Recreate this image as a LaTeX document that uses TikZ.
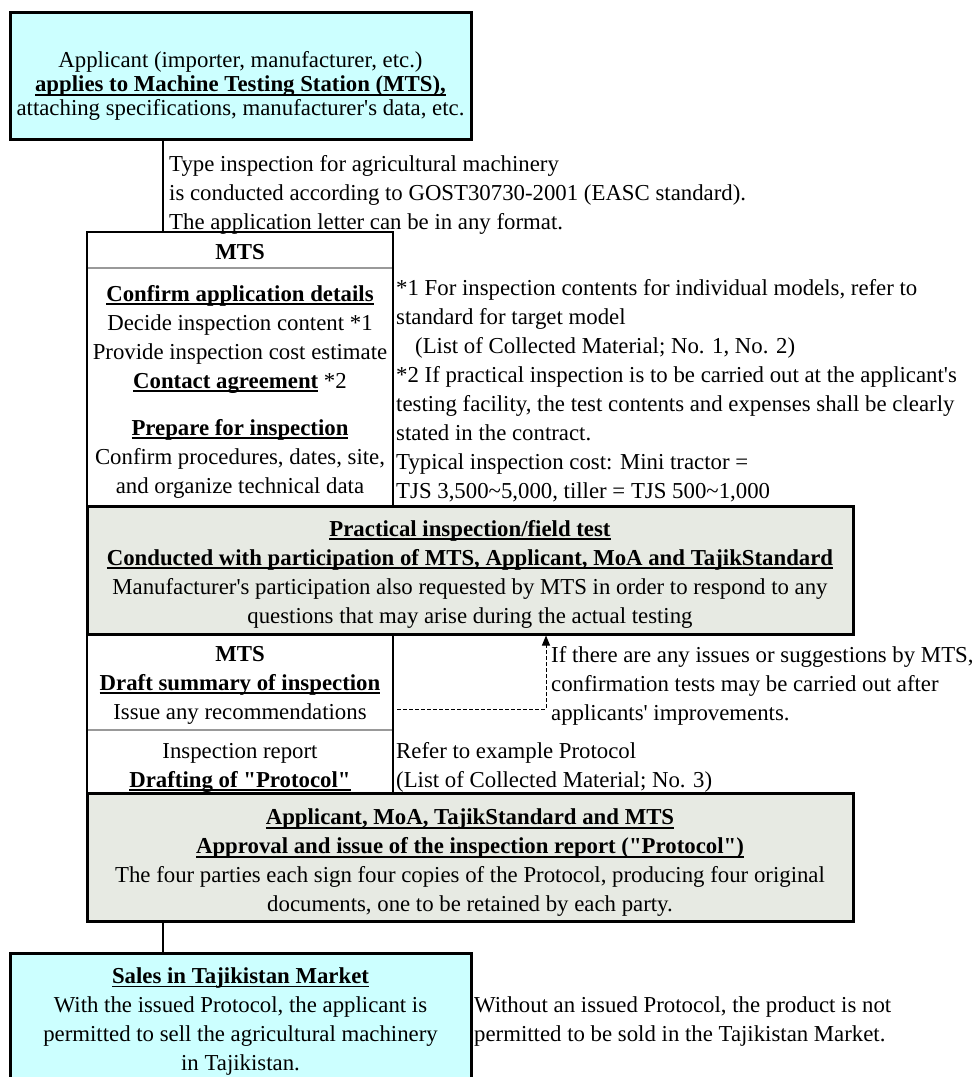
\documentclass[tikz,border=0pt]{standalone}
\usepackage{fontspec}
\setmainfont{Liberation Serif}[Ligatures=TeXOff]
\usepackage{xcolor}
\usetikzlibrary{arrows.meta,positioning,calc}

\definecolor{boxcyan}{HTML}{CCFFFF}
\definecolor{boxgray}{HTML}{E7EAE3}
\newcommand{\boxfont}{\fontsize{22.8}{29}\selectfont}
\newcommand{\tightfont}{\fontsize{22.8}{24}\selectfont\lineskiplimit=-100pt\lineskip=0pt}
\newsavebox{\ulsave}
\newcommand{\bu}[1]{\sbox{\ulsave}{\textbf{#1}}\rlap{\rule[-4pt]{\wd\ulsave}{1.8pt}}\usebox{\ulsave}}

\begin{document}
\begin{tikzpicture}[x=1pt, y=-1pt]
        \tikzset{
            cyanbox/.style={draw, fill=boxcyan, line width=3pt, inner sep=0pt, outer sep=0pt},
            graybox/.style={draw, fill=boxgray, line width=3pt, inner sep=0pt, outer sep=0pt},
            mtsbox/.style={draw, line width=2.6pt, inner sep=0pt, outer sep=0pt},
            txt/.style={align=center, font=\boxfont, inner sep=0pt},
            note/.style={align=left, font=\boxfont, inner sep=0pt, anchor=west},
            link/.style={line width=2.4pt},
            rowline/.style={line width=2.4pt, black!40, shorten <=1.4pt, shorten >=1.4pt},
            retest/.style={line width=1pt, dash pattern=on 4pt off 2pt, -{Triangle[length=10pt,width=8pt]}},
        }
        \useasboundingbox (0,0) rectangle (979,1077);

        % Application to MTS
        \node [cyanbox, minimum width=461pt, minimum height=127pt] (appl) at (240.5,75.5) {};
        \node [txt, font=\tightfont] (appltxt) at (240.5,86)
            {Applicant (importer, manufacturer, etc.)\\ \bu{applies to Machine Testing Station (MTS),}\\ attaching specifications, manufacturer's data, etc.};

        % MTS preparation
        \node [mtsbox, minimum width=306pt, minimum height=275pt] (mts) at (240,369.5) {};
        \node [txt] (mtshead) at (240,252) {\textbf{MTS}};
        \draw [rowline] (mts.west |- 0,268) -- (mts.east |- 0,268);
        \node [txt] (mtsbody) at (240,391.5)
            {\bu{Confirm application details}\\ Decide inspection content *1\\ Provide inspection cost estimate\\ \bu{Contact agreement} *2\\[18pt] \bu{Prepare for inspection}\\ Confirm procedures, dates, site,\\ and organize technical data};

        % Field test
        \node [graybox, minimum width=766pt, minimum height=128pt] (test) at (470,570) {};
        \node [txt] (testtxt) at (470,574)
            {\bu{Practical inspection/field test}\\ \bu{Conducted with participation of MTS, Applicant, MoA and TajikStandard}\\ Manufacturer's participation also requested by MTS in order to respond to any\\ questions that may arise during the actual testing};

        % Draft summary and protocol
        \node [mtsbox, minimum width=306pt, minimum height=159pt] (draft) at (240,713.5) {};
        \node [txt] (drafttxt) at (240,685) {\textbf{MTS}\\ \bu{Draft summary of inspection}\\ Issue any recommendations};
        \draw [rowline] (draft.west |- 0,730) -- (draft.east |- 0,730);
        \node [txt] (prottxt) at (240,767.5) {Inspection report\\ \bu{Drafting of "Protocol"}};

        % Approval
        \node [graybox, minimum width=766pt, minimum height=128pt] (approv) at (470,857) {};
        \node [txt] (approvtxt) at (470,863)
            {\bu{Applicant, MoA, TajikStandard and MTS}\\ \bu{Approval and issue of the inspection report ("Protocol")}\\ The four parties each sign four copies of the Protocol, producing four original\\ documents, one to be retained by each party.};

        % Sales
        \node [cyanbox, minimum width=461pt, minimum height=128pt] (sales) at (240.5,1017) {};
        \node [txt] (salestxt) at (240.5,1021.5)
            {\bu{Sales in Tajikistan Market}\\ With the issued Protocol, the applicant is\\ permitted to sell the agricultural machinery\\ in Tajikistan.};

        % Connections
        \draw [link] ([xshift=153pt]appl.south west) -- ([xshift=76pt]mts.north west);
        \draw [link] ([xshift=76pt]approv.south west) -- ([xshift=153pt]sales.north west);
        \draw [retest] ([xshift=4pt,yshift=4.5pt]draft.east) -| ([xshift=76pt,yshift=-1.5pt]test.south);

        % Notes
        \node [note] (typenote) at (169,195)
            {Type inspection for agricultural machinery\\ is conducted according to GOST30730-2001 (EASC standard).\\ The application letter can be in any format.};
        \node [note] (costnote) at (396,390.5)
            {*1 For inspection contents for individual models, refer to\\ standard for target model\\ \hspace*{19pt}(List of Collected Material; No. 1, No. 2)\\ *2 If practical inspection is to be carried out at the applicant's\\ testing facility, the test contents and expenses shall be clearly\\ stated in the contract.\\ Typical inspection cost: Mini tractor =\\ TJS 3,500\textasciitilde5,000, tiller = TJS 500\textasciitilde1,000};
        \node [note] (retestnote) at (551,686)
            {If there are any issues or suggestions by MTS,\\ confirmation tests may be carried out after\\ applicants' improvements.};
        \node [note] (protonote) at (396,767.5)
            {Refer to example Protocol\\ (List of Collected Material; No. 3)};
        \node [note, right=3pt of sales, yshift=-5pt] (salesnote)
            {Without an issued Protocol, the product is not\\ permitted to be sold in the Tajikistan Market.};
    \end{tikzpicture}
\end{document}
